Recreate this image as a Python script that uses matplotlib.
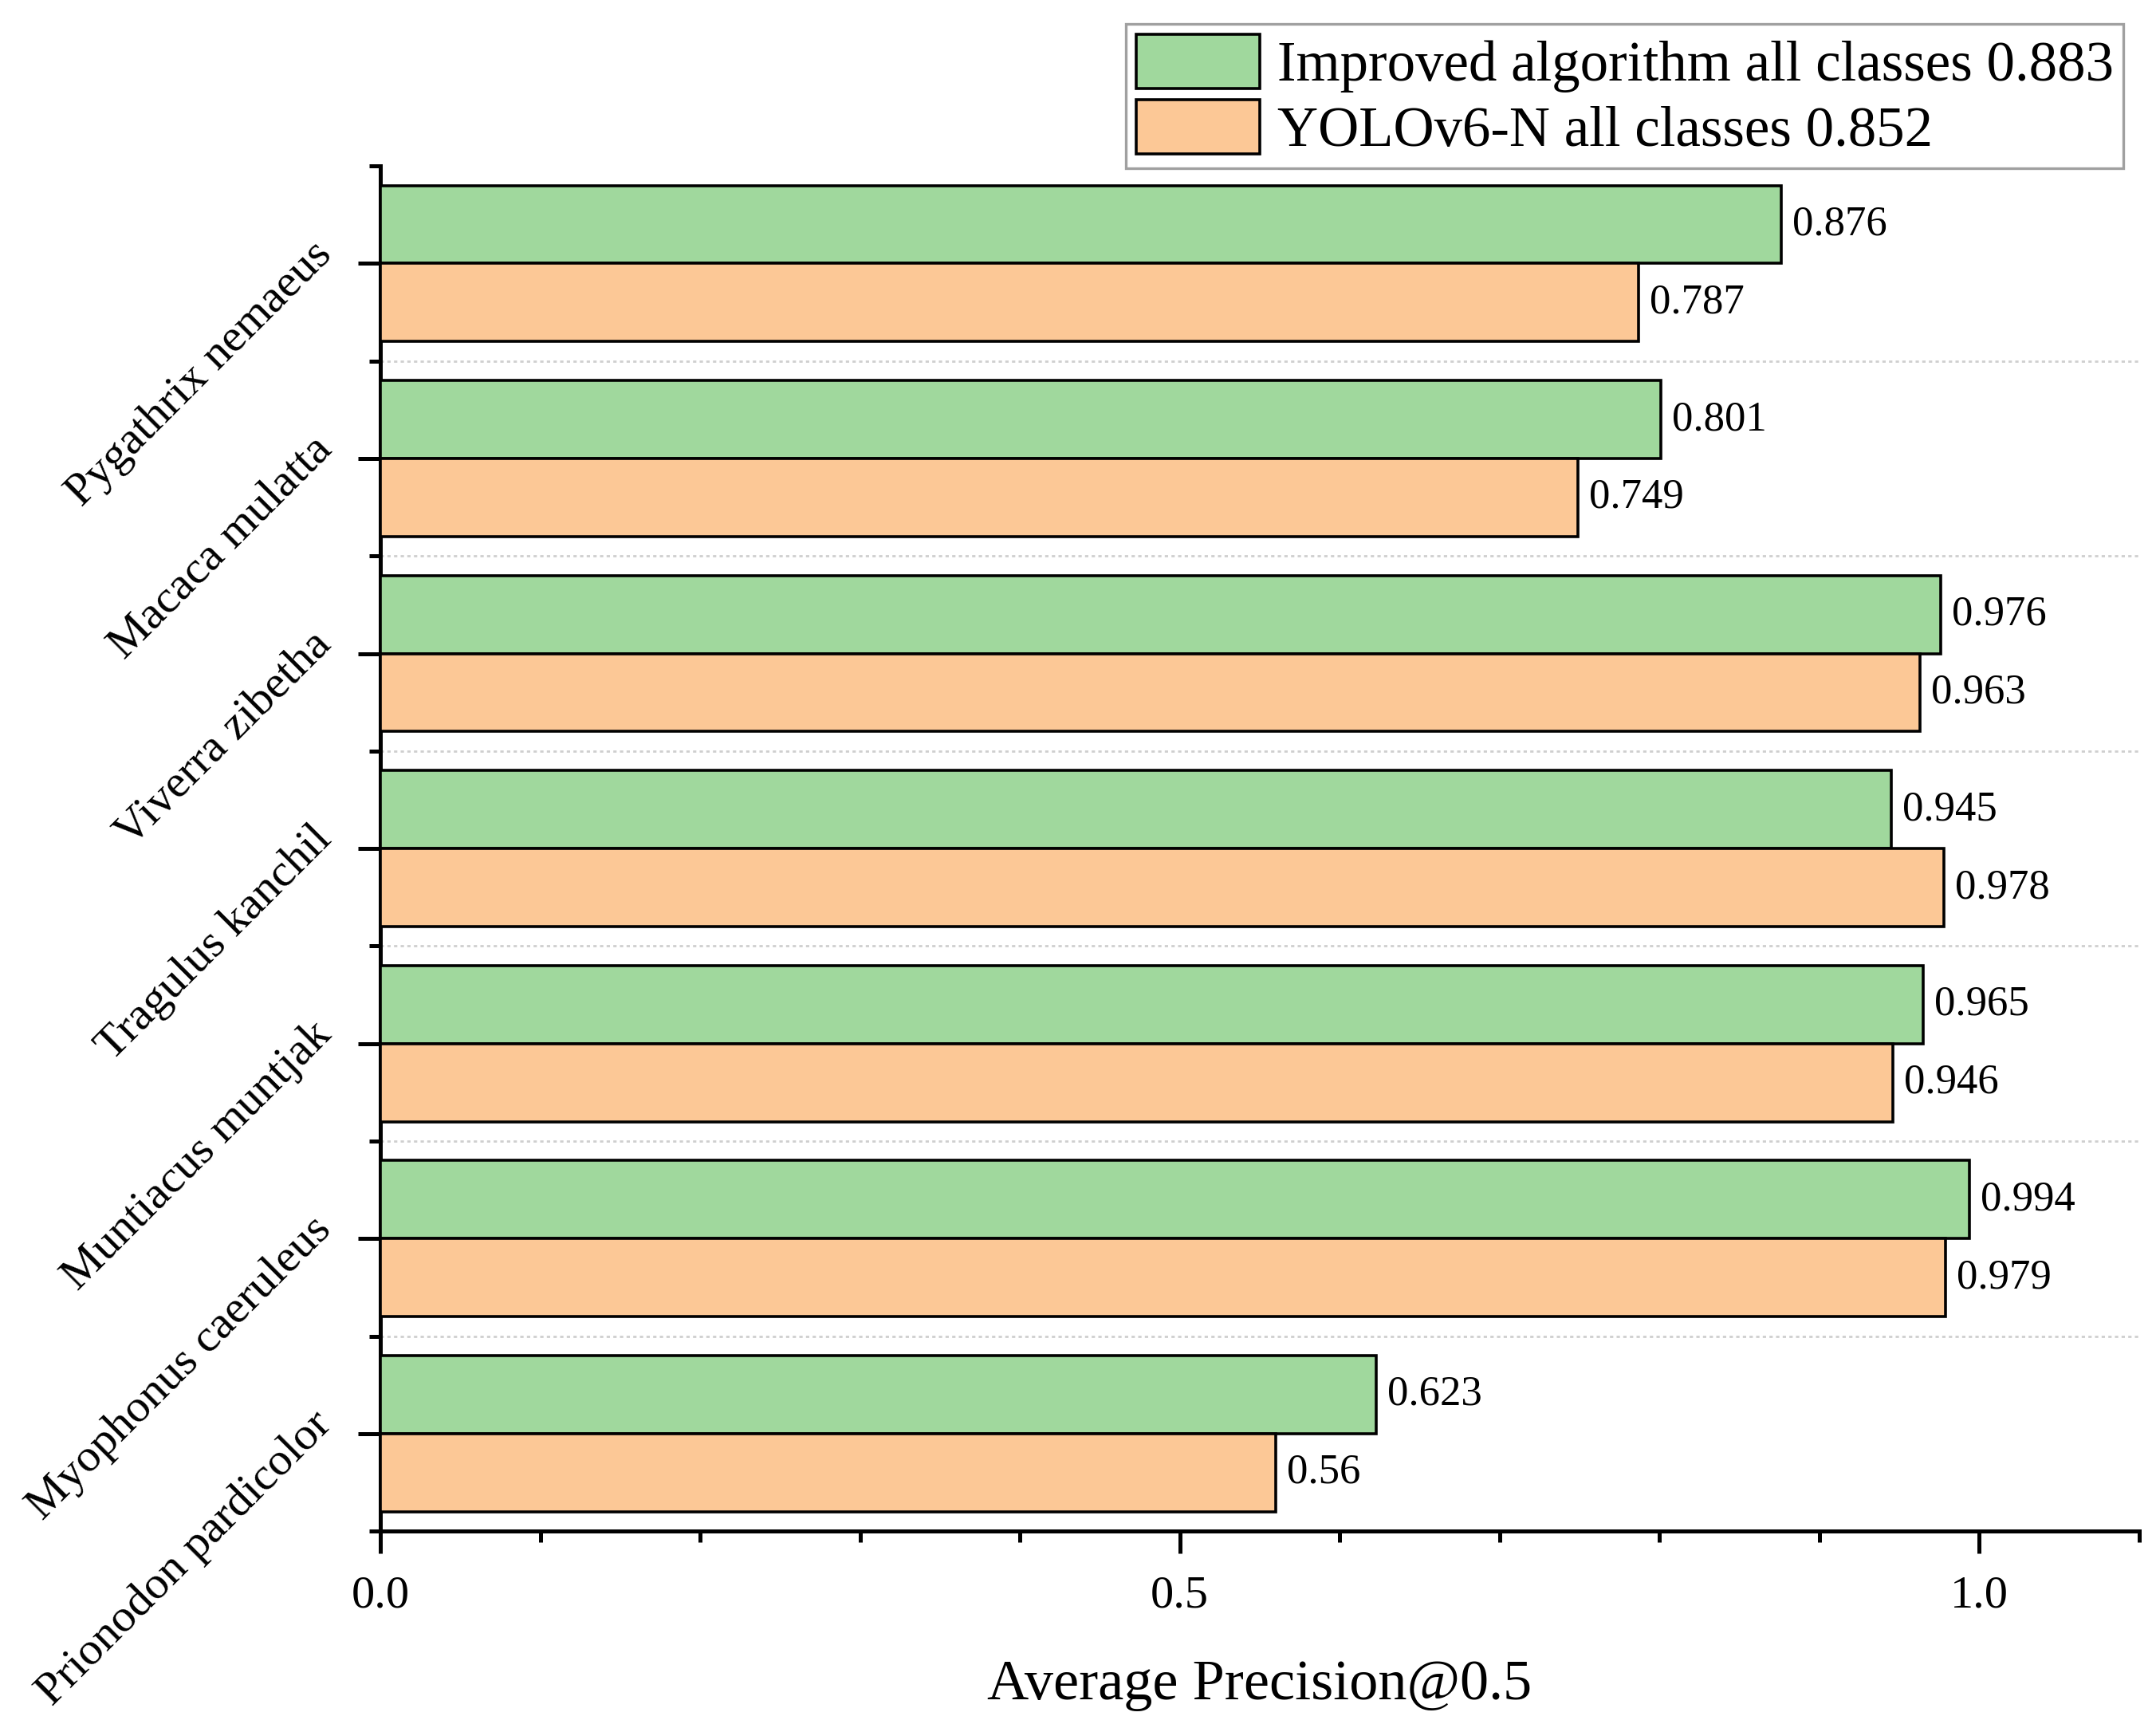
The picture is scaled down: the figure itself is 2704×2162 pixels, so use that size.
import matplotlib
matplotlib.use("Agg")
import matplotlib.pyplot as plt
from matplotlib.ticker import MultipleLocator, FixedLocator
from matplotlib.transforms import ScaledTranslation
import numpy as np

plt.rcParams['font.family'] = ['Liberation Serif', 'DejaVu Serif']

# data (bottom to top)
species = ["Prionodon pardicolor", "Myophonus caeruleus", "Muntiacus muntjak",
           "Tragulus kanchil", "Viverra zibetha", "Macaca mulatta", "Pygathrix nemaeus"]
improved = [0.623, 0.994, 0.965, 0.945, 0.976, 0.801, 0.876]
yolov6 = [0.56, 0.979, 0.946, 0.978, 0.963, 0.749, 0.787]
improved_txt = ["0.623", "0.994", "0.965", "0.945", "0.976", "0.801", "0.876"]
yolov6_txt = ["0.56", "0.979", "0.946", "0.978", "0.963", "0.749", "0.787"]

green = "#A0D89D"
orange = "#FCC896"

fig = plt.figure(figsize=(13.52, 10.81), dpi=200)
ax = fig.add_axes([0.1764, 0.1119, 0.8158, 0.7918])

y = np.arange(len(species))
h = 0.4
b1 = ax.barh(y + h / 2, improved, height=h, color=green, edgecolor="black", linewidth=1.3,
             label="Improved algorithm all classes 0.883", zorder=3)
b2 = ax.barh(y - h / 2, yolov6, height=h, color=orange, edgecolor="black", linewidth=1.3,
             label="YOLOv6-N all classes 0.852", zorder=3)

for yy, v, t in zip(y + h / 2, improved, improved_txt):
    ax.text(v + 0.007, yy, t, va="center", ha="left", fontsize=19)
for yy, v, t in zip(y - h / 2, yolov6, yolov6_txt):
    ax.text(v + 0.007, yy, t, va="center", ha="left", fontsize=19)

ax.set_xlim(0, 1.1)
ax.set_ylim(-0.5, len(species) - 0.5)
ax.xaxis.set_major_locator(FixedLocator([0.0, 0.5, 1.0]))
ax.xaxis.set_minor_locator(MultipleLocator(0.1))
ax.set_xticklabels(["0.0", "0.5", "1.0"], fontsize=21)
ax.set_yticks(y)
ax.set_yticklabels(species, fontsize=21, rotation=45, ha="right", va="center",
                   rotation_mode="anchor")
ax.yaxis.set_minor_locator(FixedLocator(np.arange(-0.5, len(species), 1.0)))

ax.tick_params(axis="both", which="major", width=1.8, length=10, direction="out")
ax.tick_params(axis="both", which="minor", width=1.8, length=5, direction="out")
ax.tick_params(axis="x", which="major", pad=10)
ax.tick_params(axis="y", which="major", pad=15)

# nudge the rotated category labels up a bit (after tick_params, which resets transforms)
shift = ScaledTranslation(0, 7 / 72, fig.dpi_scale_trans)
for lab in ax.get_yticklabels():
    lab.set_transform(lab.get_transform() + shift)

# dotted separators between groups
ax.hlines(np.arange(0.5, len(species) - 1, 1.0), 0, 1.1, colors="#cfcfcf",
          linestyles=(0, (1.5, 1.5)), linewidth=1.0, zorder=0)

for s in ["top", "right"]:
    ax.spines[s].set_visible(False)
for s in ["left", "bottom"]:
    ax.spines[s].set_linewidth(1.8)

ax.set_xlabel("Average Precision@0.5", fontsize=26)
ax.xaxis.set_label_coords(0.5, -0.113)
ax.xaxis.label.set_va("center")

leg = fig.legend(handles=[b1, b2], loc="upper right", bbox_to_anchor=(0.985, 0.986),
                 fontsize=25.5, frameon=True, fancybox=False, edgecolor="#888888",
                 handlelength=2.2, handleheight=1.1, handletextpad=0.3,
                 borderpad=0.18, labelspacing=0.13, borderaxespad=0.0)
leg.get_frame().set_linewidth(1.2)

fig.savefig("out.png", dpi=200, facecolor="white")
